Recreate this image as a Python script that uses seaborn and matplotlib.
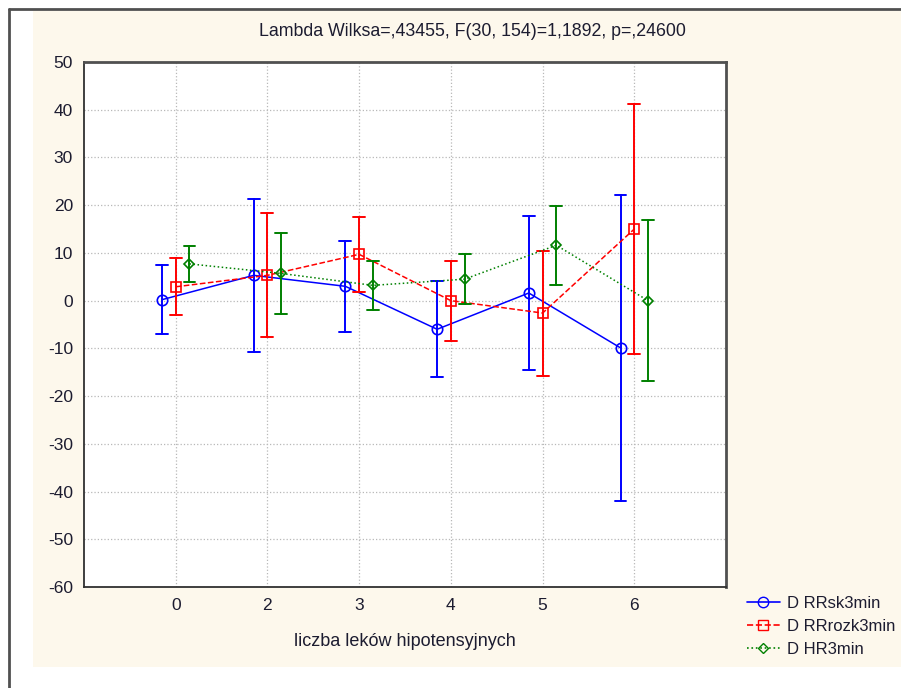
import numpy as np
import pandas as pd
import matplotlib.pyplot as plt
import seaborn as sns
from matplotlib.lines import Line2D
from matplotlib.patches import Rectangle

# data (mean and half-width of the error bar)
categories = ["0", "2", "3", "4", "5", "6"]
series = ["D RRsk3min", "D RRrozk3min", "D HR3min"]

rrsk_mean = [0.2, 5.3, 3.0, -6.0, 1.6, -9.9]
rrsk_err = [7.2, 16.0, 9.6, 10.1, 16.2, 32.0]
rrrozk_mean = [2.9, 5.3, 9.7, 0.0, -2.6, 15.0]
rrrozk_err = [6.0, 13.0, 7.9, 8.4, 13.1, 26.2]
hr_mean = [7.7, 5.7, 3.2, 4.5, 11.6, 0.0]
hr_err = [3.8, 8.4, 5.2, 5.3, 8.3, 16.8]

title = "Lambda Wilksa=,43455, F(30, 154)=1,1892, p=,24600"
xlabel = "liczba leków hipotensyjnych"

colors = ["#0000ff", "#ff0000", "#008000"]
markers = ["o", "s", "D"]
linestyles = ["-", "--", ":"]

# long table: lower and upper end of each bar, so mean = centre, min/max = bar
rows = []
for name, means, errs in zip(series, [rrsk_mean, rrrozk_mean, hr_mean],
                             [rrsk_err, rrrozk_err, hr_err]):
    for cat, m, e in zip(categories, means, errs):
        rows.append({"kat": cat, "seria": name, "val": m - e})
        rows.append({"kat": cat, "seria": name, "val": m + e})
df = pd.DataFrame(rows)

sns.set_style("white")
plt.rcParams["font.family"] = ["Liberation Sans", "DejaVu Sans"]
plt.rcParams["axes.unicode_minus"] = False
text_color = "#1c1c30"

fig = plt.figure(figsize=(9.01, 6.88), dpi=100, facecolor="white")
# cream panel and window frame
fig.patches.append(Rectangle((33 / 901, 1 - 667 / 688), 868 / 901, 656 / 688,
                             transform=fig.transFigure, facecolor="#fdf8ec",
                             edgecolor="none", zorder=-2))
fig.lines.append(Line2D([9 / 901, 9 / 901], [0, 1 - 9 / 688],
                        transform=fig.transFigure, color="#505050", linewidth=2))
fig.lines.append(Line2D([9 / 901, 1], [1 - 9 / 688, 1 - 9 / 688],
                        transform=fig.transFigure, color="#505050", linewidth=2))

ax = fig.add_axes([84 / 901, 1 - 587 / 688, 642 / 901, 525 / 688])
ax.set_facecolor("white")

sns.pointplot(data=df, x="kat", y="val", hue="seria", order=categories,
              hue_order=series, estimator="mean",
              errorbar=lambda v: (v.min(), v.max()),
              dodge=0.3, markers=markers, linestyles=linestyles,
              palette=colors, capsize=0.13, markersize=7.5, linewidth=1.1,
              markerfacecolor="none", markeredgewidth=1.2,
              err_kws={"linewidth": 1.4, "linestyle": "-"}, ax=ax)

# the diamonds are smaller than the other markers in the original
for ln in ax.lines:
    if ln.get_marker() == "D":
        ln.set_markersize(5)

ax.set_xlim(-1, 6)
ax.set_ylim(-60, 50)
ax.set_yticks(np.arange(-60, 51, 10))
ax.grid(True, linestyle=":", color="#b8b8b8", linewidth=0.9)
ax.set_axisbelow(True)
ax.tick_params(direction="in", length=4, colors="#303030", labelcolor=text_color,
               labelsize=12.5, pad=8)
for sp in ax.spines.values():
    sp.set_color("#303030")
    sp.set_linewidth(1.3)
ax.spines["right"].set_color("#505050")
ax.spines["right"].set_linewidth(2)
ax.spines["top"].set_color("#505050")
ax.spines["top"].set_linewidth(2)

ax.set_xlabel(xlabel, fontsize=13, color=text_color, labelpad=14)
ax.set_ylabel("")
fig.text(0.524, 1 - 32 / 688, title, ha="center", va="center", fontsize=12.8,
         color=text_color)

ax.get_legend().remove()
handles = [Line2D([], [], color=c, marker=m, linestyle=ls,
                  markersize=5 if m == "D" else 7.5,
                  markerfacecolor="none", linewidth=1.2)
           for c, m, ls in zip(colors, markers, linestyles)]
fig.legend(handles, series, loc="upper left",
           bbox_to_anchor=(740 / 901, 1 - 589 / 688), frameon=False,
           fontsize=12, labelcolor=text_color, handlelength=2.0,
           handletextpad=0.4, labelspacing=0.5, borderaxespad=0)

fig.savefig("out.png", dpi=100, facecolor="white")
